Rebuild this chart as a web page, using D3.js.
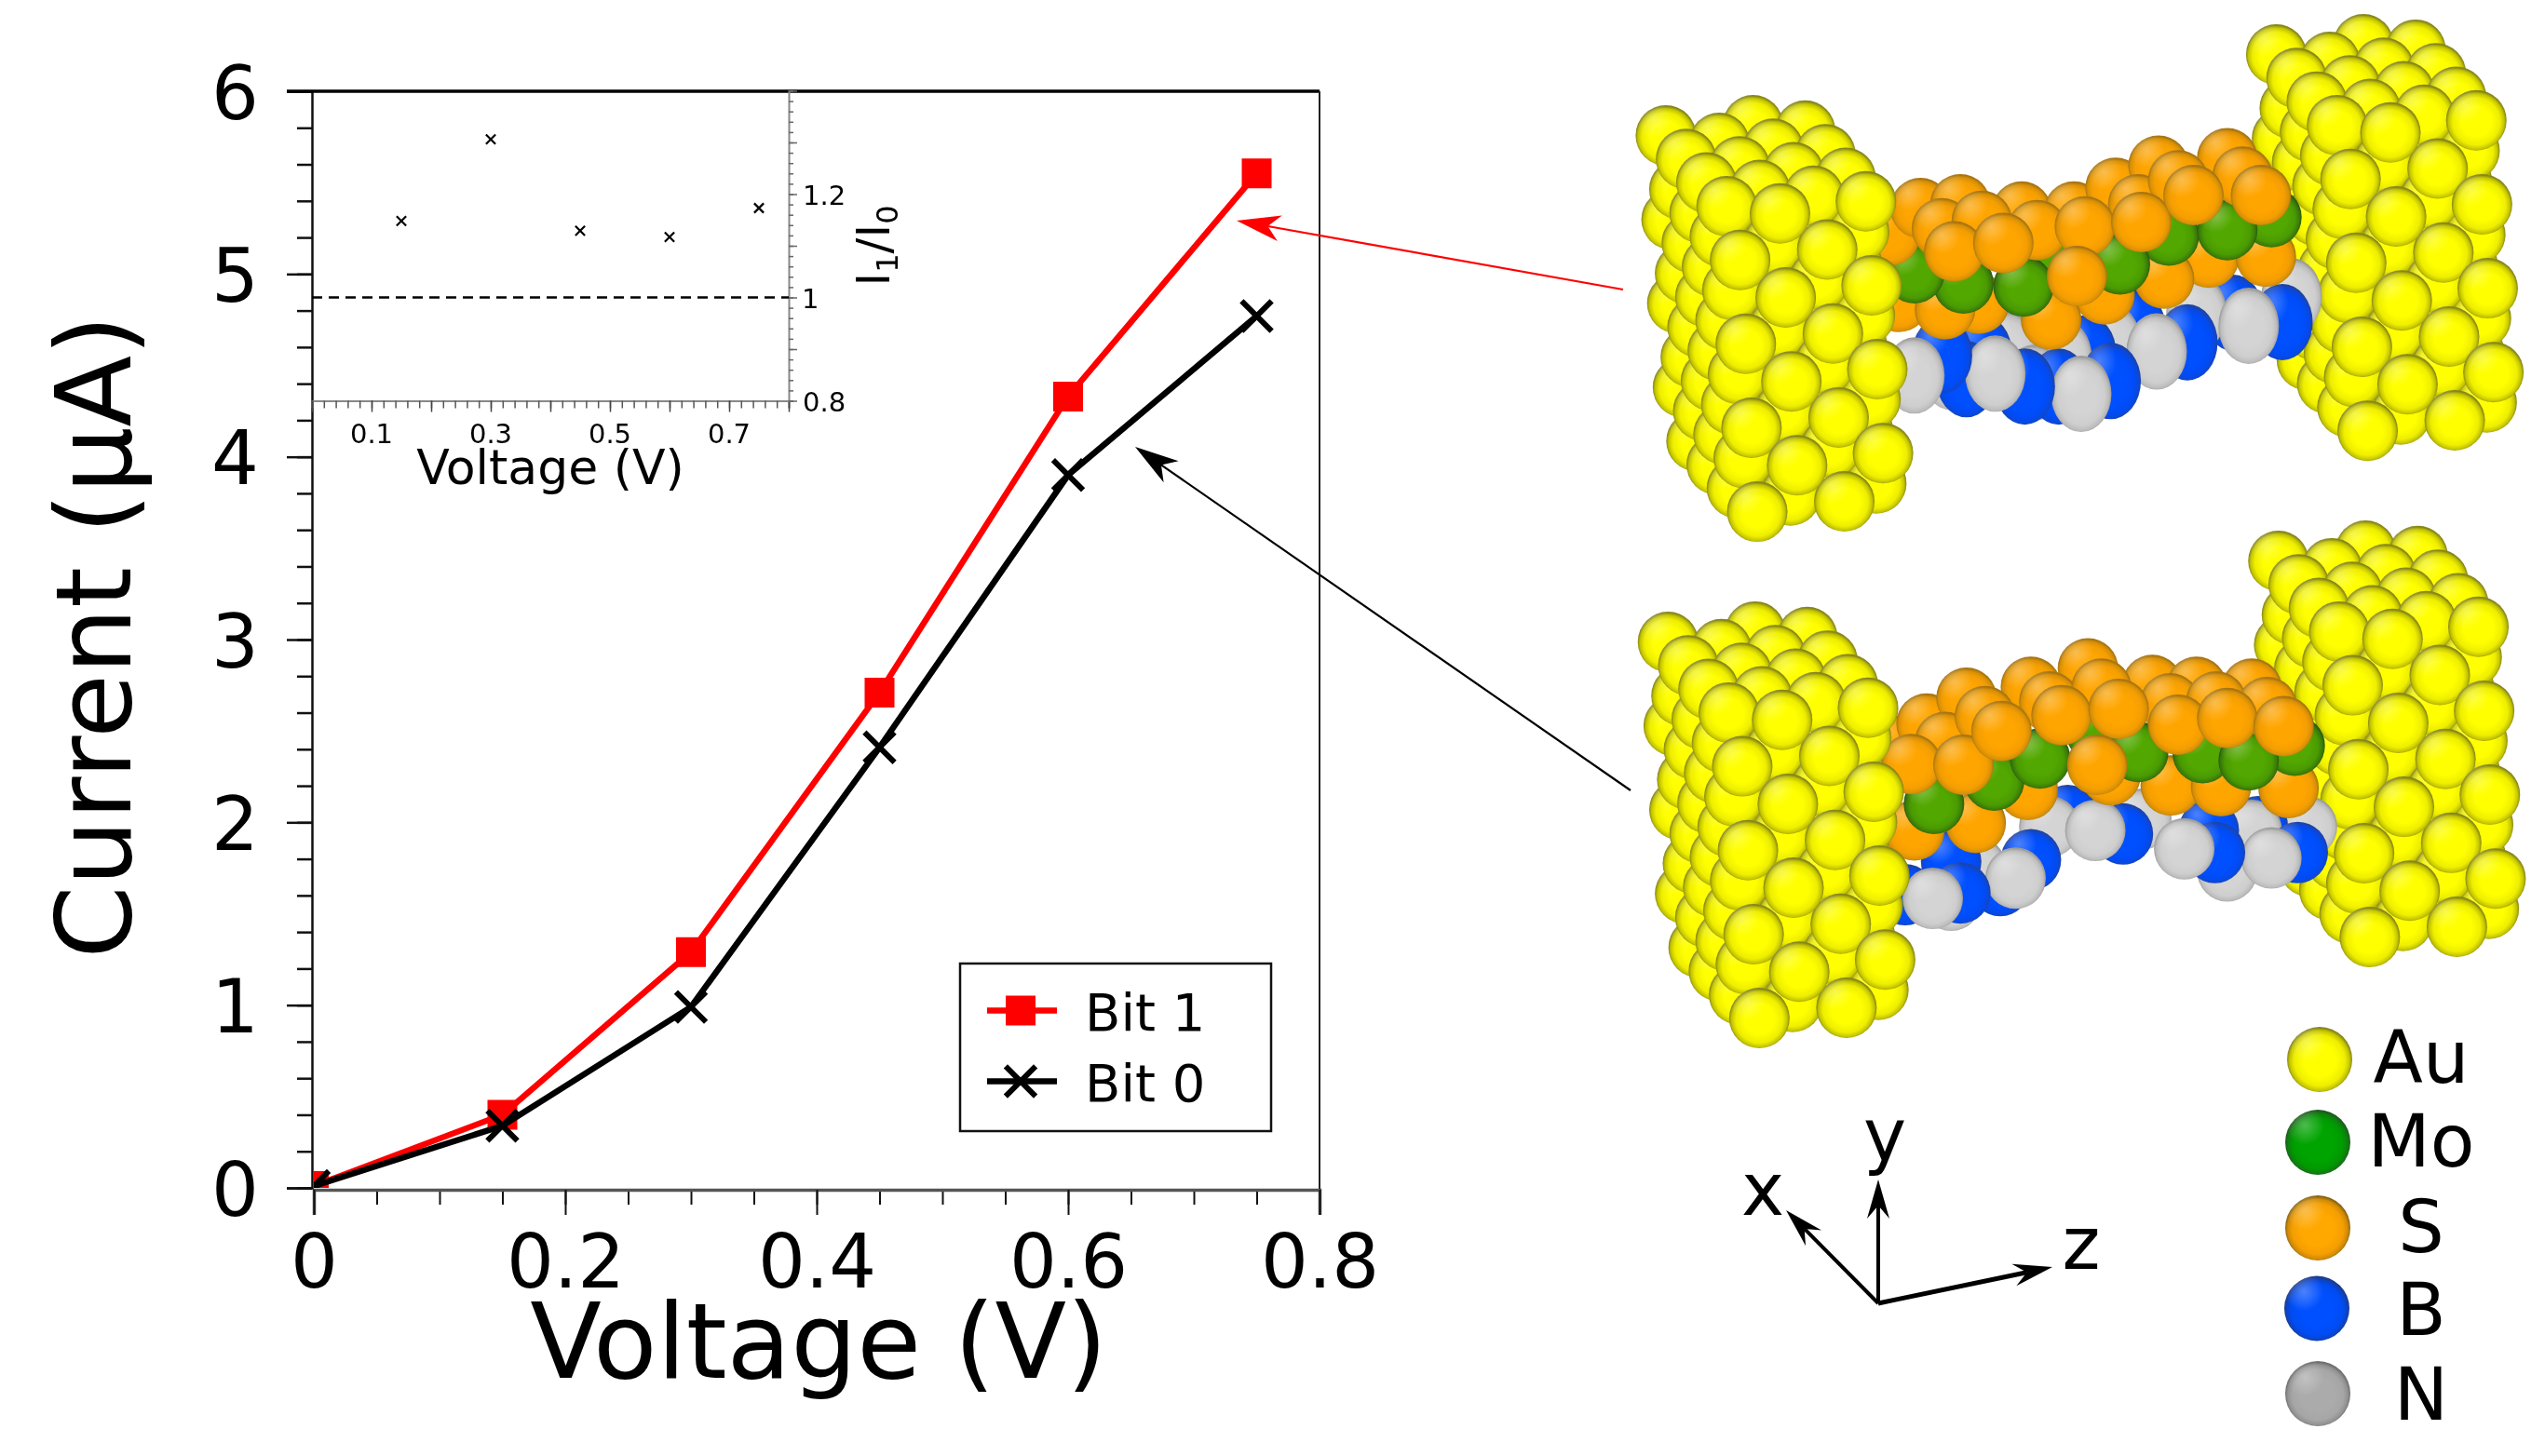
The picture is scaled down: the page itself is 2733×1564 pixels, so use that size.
<!DOCTYPE html>
<html><head><meta charset="utf-8">
<style>html,body{margin:0;padding:0;background:#fff}svg{display:block;filter:blur(0.6px)}text{font-family:"DejaVu Sans";fill:#000}</style>
<script src="https://cdn.jsdelivr.net/npm/d3@7/dist/d3.min.js"></script>
</head><body><svg id="c" width="2733" height="1564"></svg>
<script>
// ---- chart data ----
const voltage = [0, 0.15, 0.30, 0.45, 0.60, 0.75];
const bit1 = [0.01, 0.40, 1.29, 2.71, 4.33, 5.55];
const bit0 = [0.01, 0.34, 0.99, 2.41, 3.90, 4.77];
const insetVoltage = [0.15, 0.30, 0.45, 0.60, 0.75];
const ratio = [1.148, 1.306, 1.129, 1.117, 1.173];
const xTicks = [0, 0.2, 0.4, 0.6, 0.8];
const yTicks = [0, 1, 2, 3, 4, 5, 6];
const insetXLabels = [0.1, 0.3, 0.5, 0.7];
const insetYLabels = [0.8, 1, 1.2];
const seriesNames = ["Bit 1", "Bit 0"];
// ---- illustration: gold lattice columns and atoms, in scene units ----
const goldColumns = [[135,368],[222,388],[277,340],[362,355]];
const elementNames = ["Au","Mo","S","B","N"];
const topAtoms = [
["N",1155,805],["B",1060,850],["N",1000,850],["B",900,890],["N",860,930],["B",820,960],["N",780,970],["B",700,960],["N",690,950],["B",650,960],["N",600,1010],["B",625,1030],["N",735,1040],["B",775,1050],
["B",1140,875],["N",1085,885],["B",985,930],["N",935,955],["B",860,1035],["N",812,1070],["B",720,1050],["N",672,1015],["B",585,965],["N",540,1020],
["S",515,820],["S",645,825],["S",850,800],["S",1020,700],["S",590,840],["S",763,868],["S",947,757],["S",1113,697],
["Mo",1122,590],["Mo",955,640],["Mo",770,700],["Mo",620,770],["Mo",1050,625],["Mo",875,718],["Mo",718,778],["Mo",540,742],
["S",500,640],["S",550,565],["S",615,555],["S",715,575],["S",800,575],["S",868,510],["S",938,450],["S",1050,430],
["S",585,620],["S",650,600],["S",740,625],["S",905,555],["S",970,490],["S",1075,480],
["S",605,683],["S",685,660],["S",818,615],["S",910,603],["S",995,530],["S",1105,530],["S",805,750]];
const bottomAtoms = [
["N",1180,880],["B",1100,880],["N",1090,890],["B",1020,890],["N",1050,1000],["N",910,860],["B",790,850],["N",760,880],["B",680,1040],["N",640,990],["B",600,975],["N",600,1080],["B",525,1065],
["B",1165,950],["N",1122,965],["B",1030,950],["N",980,940],["B",880,900],["N",835,890],["B",730,970],["N",705,1020],["B",615,1060],["N",570,1075],
["S",540,890],["S",725,780],["S",860,740],["S",958,768],["S",1040,770],["S",1150,775],["S",640,870],
["Mo",670,755],["Mo",835,620],["Mo",1010,680],["Mo",1160,660],["Mo",572,818],["Mo",745,695],["Mo",905,677],["Mo",1085,700],
["S",510,660],["S",560,600],["S",625,530],["S",730,500],["S",823,450],["S",928,495],["S",1000,500],["S",1090,505],
["S",590,650],["S",655,580],["S",760,540],["S",845,505],["S",957,545],["S",1032,540],["S",1115,555],
["S",535,710],["S",620,712],["S",682,620],["S",780,577],["S",873,560],["S",970,603],["S",1050,585],["S",1142,607],["S",838,712]];

const svg = d3.select("#c");
const FONT = "DejaVu Sans";
// gradients
const defs = svg.append("defs");
function grad(id, core, soft, mid, rim){
  const g = defs.append("radialGradient").attr("id",id).attr("cx",.5).attr("cy",.52).attr("r",.5);
  [[0,core],[.5,core],[.78,soft],[.92,mid],[1,rim]].forEach(s=>g.append("stop").attr("offset",s[0]).attr("stop-color",s[1]));
}
grad("Au","#ffff00","#eeee00","#c4c400","#86861a");
grad("Mo","#52a800","#4a9a02","#3a7c08","#2a5a12");
grad("S","#ffa500","#f49e02","#d89006","#a87410");
grad("B","#0050ff","#004cf8","#0a48dc","#1c44a8");
grad("N","#d4d4d4","#cecece","#bcbcbc","#9c9c9c");
grad("lAu","#ffff00","#eeee00","#c4c400","#86861a");
grad("lMo","#00a400","#009a00","#107c10","#1c5c1c");
grad("lS","#ffa800","#f49e02","#d08a06","#8c6410");
grad("lB","#0050ff","#004cf4","#0a44c8","#1c3c8c");
grad("lN","#ababab","#a6a6a6","#929292","#6e6e6e");
const hl = defs.append("radialGradient").attr("id","hl").attr("cx",.3).attr("cy",.24).attr("r",.3);
hl.append("stop").attr("offset",0).attr("stop-color","#fff").attr("stop-opacity",.3);
hl.append("stop").attr("offset",1).attr("stop-color","#fff").attr("stop-opacity",0);

// ---- main plot ----
const x = d3.scaleLinear().domain([0,0.8]).range([337,1417]);
const y = d3.scaleLinear().domain([0,6]).range([1276,98]);
const xMinor = d3.range(0,0.8001,0.05), yMinor = d3.range(0,6.001,0.2);
defs.append("clipPath").attr("id","plot").append("rect").attr("x",x(0)).attr("y",y(6)).attr("width",x(.8)-x(0)).attr("height",y(0)-y(6));

const gXm = svg.append("g").attr("transform","translate(0,1278)")
  .call(d3.axisBottom(x).tickValues(xMinor).tickSize(16).tickFormat(""));
gXm.select(".domain").remove(); gXm.selectAll("line").attr("stroke","#111").attr("stroke-width",2);
const gX = svg.append("g").attr("transform","translate(0,1278)")
  .call(d3.axisBottom(x).tickValues(xTicks).tickSize(27).tickPadding(22).tickFormat(d=>d===0?"0":d3.format(".1f")(d)));
gX.select(".domain").attr("stroke","#555").attr("stroke-width",3.5);
gX.selectAll("line").attr("stroke","#111").attr("stroke-width",2);
gX.selectAll("text").attr("font-family",FONT).attr("font-size",80).attr("fill","#000").attr("dy",null).attr("y",105);

const gYm = svg.append("g").attr("transform","translate(335,0)")
  .call(d3.axisLeft(y).tickValues(yMinor).tickSize(16).tickFormat(""));
gYm.select(".domain").remove(); gYm.selectAll("line").attr("stroke","#111").attr("stroke-width",2.5);
const gY = svg.append("g").attr("transform","translate(335,0)")
  .call(d3.axisLeft(y).tickValues(yTicks).tickSize(27).tickFormat(d3.format("d")));
gY.select(".domain").attr("stroke","#111").attr("stroke-width",2.5);
gY.selectAll("line").attr("stroke","#111").attr("stroke-width",2.5);
gY.selectAll("text").attr("font-family",FONT).attr("font-size",80).attr("fill","#000").attr("x",-57).attr("dy",29);

svg.append("line").attr("x1",308).attr("x2",1417).attr("y1",y(6)).attr("y2",y(6)).attr("stroke","#000").attr("stroke-width",3.5);
svg.append("line").attr("x1",x(.8)).attr("x2",x(.8)).attr("y1",y(6)).attr("y2",1277).attr("stroke","#222").attr("stroke-width",2);

svg.append("text").attr("x",879).attr("y",1480).attr("text-anchor","middle").attr("font-size",112).text("Voltage (V)");
svg.append("text").attr("transform","translate(140,684) rotate(-90)").attr("text-anchor","middle").attr("font-size",112).text("Current (μA)");

// ---- inset ----
const ix = d3.scaleLinear().domain([0,0.8]).range([335,847]);
const iy = d3.scaleLinear().domain([0.8,1.4]).range([430.5,97.5]);
const igXm = svg.append("g").attr("transform","translate(0,430.5)")
  .call(d3.axisBottom(ix).tickValues(d3.range(0,0.8001,0.02)).tickSize(8).tickFormat(""));
igXm.select(".domain").attr("stroke","#888").attr("stroke-width",2);
igXm.selectAll("line").attr("stroke","#555").attr("stroke-width",1.5);
const igX = svg.append("g").attr("transform","translate(0,430.5)")
  .call(d3.axisBottom(ix).tickValues(d3.range(0,0.8001,0.1)).tickSize(12).tickFormat(""));
igX.select(".domain").remove(); igX.selectAll("line").attr("stroke","#444").attr("stroke-width",1.5);
svg.append("g").selectAll("text").data(insetXLabels).join("text").attr("x",d=>ix(d)).attr("y",475.5)
  .attr("text-anchor","middle").attr("font-size",29).text(d=>d3.format(".1f")(d));
const igYm = svg.append("g").attr("transform","translate(847,0)")
  .call(d3.axisRight(iy).tickValues(d3.range(0.8,1.4001,0.02)).tickSize(5).tickFormat(""));
igYm.select(".domain").attr("stroke","#888").attr("stroke-width",2);
igYm.selectAll("line").attr("stroke","#666").attr("stroke-width",1.5);
const igY = svg.append("g").attr("transform","translate(847,0)")
  .call(d3.axisRight(iy).tickValues(d3.range(0.8,1.4001,0.1)).tickSize(9).tickFormat(""));
igY.select(".domain").remove(); igY.selectAll("line").attr("stroke","#666").attr("stroke-width",1.5);
svg.append("g").selectAll("text").data(insetYLabels).join("text").attr("x",d=>d===1?861:862).attr("y",d=>iy(d)+11)
  .attr("font-size",29).text(d=>d===1?"1":d3.format(".1f")(d));
svg.append("line").attr("x1",ix(0)).attr("x2",ix(.8)).attr("y1",iy(1)).attr("y2",iy(1))
  .attr("stroke","#000").attr("stroke-width",2.5).attr("stroke-dasharray","11 7");
svg.append("g").selectAll("path").data(insetVoltage).join("path")
  .attr("d",d3.symbol().type(d3.symbolX).size(70)).attr("transform",(d,i)=>`translate(${ix(d)},${iy(ratio[i])})`)
  .attr("stroke","#000").attr("stroke-width",2.2).attr("fill","none");
svg.append("text").attr("x",591).attr("y",519.5).attr("text-anchor","middle").attr("font-size",52).text("Voltage (V)");
const rl = svg.append("text").attr("transform","translate(955,264) rotate(-90)").attr("text-anchor","middle").attr("font-size",50);
rl.append("tspan").text("I");
rl.append("tspan").attr("font-size",32).attr("dy",9).text("1");
rl.append("tspan").attr("dy",-9).text("/I");
rl.append("tspan").attr("font-size",32).attr("dy",9).text("0");

// ---- series ----
const line = d3.line().x((d,i)=>x(voltage[i])).y(d=>y(d));
const sq = d3.symbol().type(d3.symbolSquare).size(1024)();
const cr = d3.symbol().type(d3.symbolX).size(680)();
const plotG = svg.append("g").attr("clip-path","url(#plot)");
plotG.append("path").attr("d",line(bit1)).attr("fill","none").attr("stroke","#ff0000").attr("stroke-width",6.5);
plotG.append("g").selectAll("path").data(bit1).join("path").attr("d",sq).attr("fill","#ff0000")
  .attr("transform",(d,i)=>`translate(${x(voltage[i])},${y(d)})`);
plotG.append("path").attr("d",line(bit0)).attr("fill","none").attr("stroke","#000").attr("stroke-width",6.5);
plotG.append("g").selectAll("path").data(bit0).join("path").attr("d",cr).attr("fill","none").attr("stroke","#000").attr("stroke-width",6)
  .attr("transform",(d,i)=>`translate(${x(voltage[i])},${y(d)})`);

// ---- legend ----
svg.append("rect").attr("x",1031).attr("y",1035).attr("width",334).attr("height",180).attr("fill","#fff").attr("stroke","#111").attr("stroke-width",2.5);
const legY = [1085.5,1161.5], legCol = ["#ff0000","#000"];
seriesNames.forEach((n,i)=>{
  svg.append("line").attr("x1",1060).attr("x2",1135).attr("y1",legY[i]).attr("y2",legY[i]).attr("stroke",legCol[i]).attr("stroke-width",6.5);
  svg.append("path").attr("d",i?cr:sq).attr("transform",`translate(1096,${legY[i]})`)
    .attr("fill",i?"none":"#ff0000").attr("stroke",i?"#000":"none").attr("stroke-width",6);
  svg.append("text").attr("x",1165).attr("y",legY[i]+21).attr("font-size",56).text(n);
});

// ---- arrows ----
function arrow(g,x1,y1,x2,y2,col,w,len,hw,notch){
  const a=Math.atan2(y2-y1,x2-x1), c=Math.cos(a), s=Math.sin(a);
  const P=(l,t)=>[x2-l*c-t*s, y2-l*s+t*c];
  const ln=P(notch,0);
  g.append("line").attr("x1",x1).attr("y1",y1).attr("x2",ln[0]).attr("y2",ln[1]).attr("stroke",col).attr("stroke-width",w);
  g.append("path").attr("d","M"+[[x2,y2],P(len,hw),ln,P(len,-hw)].map(p=>p.join(",")).join("L")+"Z").attr("fill",col);
}
const ann = svg.append("g");
arrow(ann,1743,311,1328,237,"#ff0000",2.2,47,14,34);
arrow(ann,1751,849,1219,480,"#000",2.2,47,14,34);

// ---- atoms ----
const sx = d3.scaleLinear().domain([0,1568]).range([1700,2733]);
const syTop = d3.scaleLinear().domain([0,1568]).range([0,620]);
const syBot = d3.scaleLinear().domain([0,1568]).range([540,1160]);
const R = 32.5;
function goldAtoms(){
  const out=[];
  goldColumns.forEach((c,ci)=>{
    for(let n=0;n<4;n++){
      for(let i=0;i<4;i++){
        out.push({x:c[0]+i*33+n*9.3,y:c[1]+i*64+n*228,k:c[1]+i*64});
        const j=(ci%2)?i-1:i;
        out.push({x:c[0]+j*33+22+n*9.3,y:c[1]+j*64+146+n*228,k:c[1]+j*64+10});
      }
    }
  });
  return out.sort((a,b)=>a.k-b.k||a.y-b.y);
}
function balls(g,data,fx,fy,fill,ry){
  const e=g.append("g").selectAll("g").data(data).join("g");
  ["fill","hl"].forEach(kind=>{
    e.append("ellipse").attr("cx",fx).attr("cy",fy).attr("rx",R).attr("ry",ry||R)
      .attr("fill",kind==="fill"?fill:"url(#hl)");
  });
}
function drawScene(syFn, atoms, gdx, gdy, bnRy){
  const g = svg.append("g");
  const gold = goldAtoms();
  balls(g,gold,d=>sx(d.x+995+gdx),d=>syFn(d.y-220+gdy),"url(#Au)");
  atoms.forEach(a=>{
    balls(g,[a],d=>sx(d[1]),d=>syFn(d[2]),d=>`url(#${d[0]})`,(a[0]==="B"||a[0]==="N")?bnRy:R);
  });
  balls(g,gold,d=>sx(d.x+gdx),d=>syFn(d.y+gdy),"url(#Au)");
}
drawScene(syTop, topAtoms, 0, 0, 41);
drawScene(syBot, bottomAtoms, 3.5, 10, 33);

// ---- element key ----
const keyX=[2491,2489,2489,2488,2489], keyY=[1138,1227,1319,1405.5,1497], keyBase=[1163,1253,1345,1434,1525];
elementNames.forEach((n,i)=>{
  svg.append("ellipse").attr("cx",keyX[i]).attr("cy",keyY[i]).attr("rx",35).attr("ry",35).attr("fill",`url(#l${n})`);
  svg.append("ellipse").attr("cx",keyX[i]).attr("cy",keyY[i]).attr("rx",35).attr("ry",35).attr("fill","url(#hl)");
  svg.append("text").attr("x",2600).attr("y",keyBase[i]).attr("text-anchor","middle").attr("font-size",78).text(n);
});

// ---- axes triad ----
const tri = svg.append("g");
arrow(tri,2017,1400,2017,1267,"#000",4,42,12,28);
arrow(tri,2017,1400,1918,1300,"#000",4,42,12,28);
arrow(tri,2017,1400,2204,1361,"#000",5,42,12,28);
svg.append("text").attr("x",2024).attr("y",1247).attr("text-anchor","middle").attr("font-size",78).text("y");
svg.append("text").attr("x",1893).attr("y",1305).attr("text-anchor","middle").attr("font-size",78).text("x");
svg.append("text").attr("x",2235).attr("y",1363).attr("text-anchor","middle").attr("font-size",78).text("z");
</script></body></html>
